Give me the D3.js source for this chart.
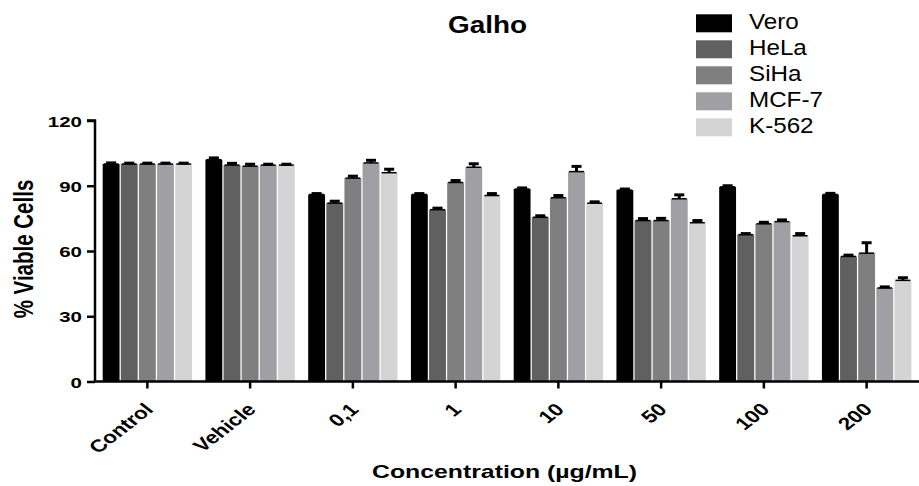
<!DOCTYPE html>
<html>
<head>
<meta charset="utf-8">
<script src="https://cdn.jsdelivr.net/npm/d3@7"></script>
<style>
  body { margin: 0; background: #fff; }
  svg text { font-family: "Liberation Sans", Arial, sans-serif; }
</style>
</head>
<body>
<div id="chart"></div>
<script>
// data
var groups = ["Control", "Vehicle", "0,1", "1", "10", "50", "100", "200"];
var cellLines = ["Vero", "HeLa", "SiHa", "MCF-7", "K-562"];
var fills = ["#000000", "#606060", "#7f7f7f", "#a0a0a4", "#d4d4d4"];

var vero  = [100, 102, 86, 86, 88.5, 88, 89.5, 86];
var hela  = [100, 99.5, 82, 79, 75.5, 74, 67.5, 57.5];
var siha  = [100, 99, 93.5, 91.5, 84.5, 74, 72.5, 59];
var mcf7  = [100, 99.5, 100.5, 98.5, 96.5, 84, 73.5, 43];
var k562  = [100, 99.5, 96, 85.5, 82, 73, 67, 46.5];

var veroErr = [0.5, 0.8, 0.4, 0.4, 0.5, 0.5, 0.5, 0.5];
var helaErr = [0.4, 0.8, 0.9, 0.7, 0.7, 0.9, 0.5, 0.6];
var sihaErr = [0.4, 0.9, 0.9, 0.9, 1.0, 1.0, 0.7, 4.8];
var mcf7Err = [0.4, 0.4, 1.2, 1.6, 2.4, 1.8, 0.8, 0.5];
var k562Err = [0.4, 0.4, 1.6, 0.9, 0.6, 1.0, 1.0, 1.2];

var yTicks = [0, 30, 60, 90, 120];

var series = [vero, hela, siha, mcf7, k562];
var errs = [veroErr, helaErr, sihaErr, mcf7Err, k562Err];

var width = 919, height = 486;
// the original picture is stretched sideways, text too
var stretch = 1.32;

var svg = d3.select("#chart").append("svg")
  .attr("width", width)
  .attr("height", height);

var x0 = d3.scaleBand()
  .domain(groups)
  .range([96, 918])
  .paddingInner(0.13)
  .paddingOuter(0.065);

var x1 = d3.scaleBand()
  .domain(cellLines)
  .range([0, x0.bandwidth()])
  .paddingInner(0.07);

var y = d3.scaleLinear()
  .domain([0, 120])
  .range([381.5, 120.5]);

// bars
var rows = [];
groups.forEach(function(g, gi) {
  cellLines.forEach(function(c, ci) {
    rows.push({ group: g, line: c, ci: ci, value: series[ci][gi], err: errs[ci][gi] });
  });
});

var bar = svg.append("g").selectAll("g.bar")
  .data(rows)
  .enter().append("g")
  .attr("class", "bar")
  .attr("transform", function(d) { return "translate(" + (x0(d.group) + x1(d.line)) + ",0)"; });

bar.append("rect")
  .attr("x", 0)
  .attr("y", function(d) { return y(d.value); })
  .attr("width", x1.bandwidth())
  .attr("height", function(d) { return y(0) - y(d.value); })
  .attr("fill", function(d) { return fills[d.ci]; });

// error bars (upper only), like the original
var capW = 10;
bar.append("line")
  .attr("x1", x1.bandwidth() / 2)
  .attr("x2", x1.bandwidth() / 2)
  .attr("y1", function(d) { return y(d.value); })
  .attr("y2", function(d) { return y(d.value + d.err); })
  .attr("stroke", "#000")
  .attr("stroke-width", 3);
bar.append("line")
  .attr("x1", x1.bandwidth() / 2 - capW / 2)
  .attr("x2", x1.bandwidth() / 2 + capW / 2)
  .attr("y1", function(d) { return y(d.value + d.err); })
  .attr("y2", function(d) { return y(d.value + d.err); })
  .attr("stroke", "#000")
  .attr("stroke-width", 3);
bar.append("line")
  .attr("x1", 1)
  .attr("x2", x1.bandwidth() - 1)
  .attr("y1", function(d) { return y(d.value); })
  .attr("y2", function(d) { return y(d.value); })
  .attr("stroke", "#000")
  .attr("stroke-width", 1.5);

// axes
var yAxis = d3.axisLeft(y).tickValues(yTicks).tickSize(8);
var gy = svg.append("g")
  .attr("transform", "translate(95,0)")
  .call(yAxis);
gy.select(".domain").attr("stroke-width", 2.5).attr("d", "M-8," + y(120) + "H0V" + y(0));
gy.selectAll(".tick line").attr("stroke-width", 2.5);
gy.selectAll(".tick text")
  .attr("x", 0)
  .attr("dy", "0.36em")
  .attr("transform", "translate(-13,0) scale(" + stretch + ",1)")
  .attr("font-size", 15.5)
  .attr("font-weight", "bold")
  .attr("fill", "#000");

var xAxis = d3.axisBottom(x0).tickSize(7);
var gx = svg.append("g")
  .attr("transform", "translate(0," + y(0) + ")")
  .call(xAxis);
gx.select(".domain").attr("stroke-width", 2.5).attr("d", "M94,0H919");
gx.selectAll(".tick line").attr("stroke-width", 2.5);
gx.selectAll(".tick text")
  .attr("x", 0)
  .attr("y", 0)
  .attr("dy", 0)
  .attr("font-size", 17.5)
  .attr("font-weight", "bold")
  .attr("fill", "#000")
  .attr("text-anchor", "end")
  .attr("transform", "translate(7,29) scale(1.28,1) rotate(-45)");

// titles
svg.append("text")
  .attr("x", 448)
  .attr("y", 33)
  .attr("font-size", 23)
  .attr("font-weight", "bold")
  .attr("textLength", 79)
  .attr("lengthAdjust", "spacingAndGlyphs")
  .text("Galho");

svg.append("text")
  .attr("transform", "translate(33,249) scale(" + stretch + ",1) rotate(-90)")
  .attr("text-anchor", "middle")
  .attr("font-size", 20.5)
  .attr("font-weight", "bold")
  .text("% Viable Cells");

svg.append("text")
  .attr("x", 372)
  .attr("y", 478)
  .attr("font-size", 18.5)
  .attr("font-weight", "bold")
  .attr("textLength", 265)
  .attr("lengthAdjust", "spacingAndGlyphs")
  .text("Concentration (µg/mL)");

// legend
var legend = svg.append("g").selectAll("g")
  .data(cellLines)
  .enter().append("g")
  .attr("transform", function(d, i) { return "translate(696," + (14.3 + i * 26) + ")"; });
legend.append("rect")
  .attr("width", 36)
  .attr("height", 18)
  .attr("fill", function(d, i) { return fills[i]; });
legend.append("text")
  .attr("transform", "translate(53,15) scale(1.1,1)")
  .attr("font-size", 22)
  .text(function(d) { return d; });
</script>
</body>
</html>
